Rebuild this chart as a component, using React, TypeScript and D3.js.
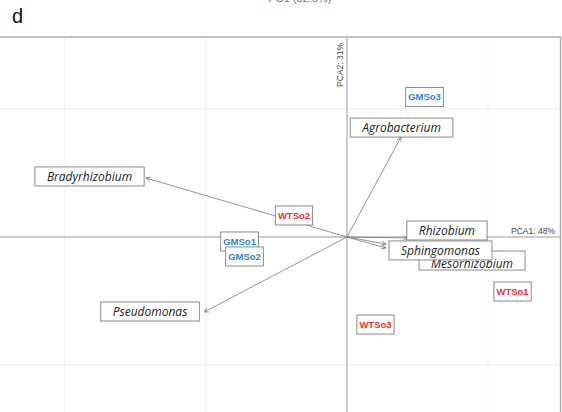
import React, { useEffect, useRef } from "react";
import * as d3 from "d3";

const loadingNames = ["Mesorhizobium", "Bradyrhizobium", "Pseudomonas", "Agrobacterium", "Sphingomonas", "Rhizobium"];
const loadingX = [0.277, -1.426, -1.014, 0.383, 0.277, 0.433];
const loadingY = [-0.086, 0.461, -0.586, 0.781, -0.055, -0.008];
const loadingLabelX = [0.887, -1.826, -1.397, 0.387, 0.663, 0.709];
const loadingLabelY = [-0.184, 0.473, -0.582, 0.855, -0.105, 0.051];

const sampleNames = ["GMSo3", "WTSo2", "GMSo1", "GMSo2", "WTSo1", "WTSo3"];
const sampleGroup = ["GM", "WT", "GM", "GM", "WT", "WT"];
const sampleX = [0.55, -0.376, -0.762, -0.727, 1.174, 0.202];
const sampleY = [1.094, 0.168, -0.035, -0.152, -0.426, -0.684];

const gridX = [-2, -1, 1];
const gridY = [-1, 1];

const W = 562;
const H = 412;

export default function App() {
  const ref = useRef<SVGSVGElement | null>(null);

  useEffect(() => {
    const svg = d3.select(ref.current);
    svg.selectAll("*").remove();

    const x = d3.scaleLinear().domain([0, 1]).range([347, 488]);
    const y = d3.scaleLinear().domain([0, 1]).range([237, 109]);

    // cut-off top title
    svg.append("text").attr("x", 300).attr("y", 2).attr("text-anchor", "middle")
      .attr("font-family", "Liberation Sans, Arial, sans-serif").attr("font-size", 11)
      .attr("fill", "#777").text("PC1 (32.5%)");

    svg.append("text").attr("x", 12).attr("y", 23)
      .attr("font-family", "Liberation Sans, Arial, sans-serif").attr("font-size", 20)
      .attr("fill", "#111").text("d");

    // frame
    svg.append("rect").attr("x", -5).attr("y", 37).attr("width", 565.5).attr("height", 400)
      .attr("fill", "white").attr("stroke", "#aaa").attr("stroke-width", 1.4);

    // grid
    svg.append("g").selectAll("line").data(gridX).join("line")
      .attr("x1", d => x(d)).attr("x2", d => x(d)).attr("y1", 38).attr("y2", H)
      .attr("stroke", "#ebebeb").attr("stroke-width", 1);
    svg.append("g").selectAll("line").data(gridY).join("line")
      .attr("y1", d => y(d)).attr("y2", d => y(d)).attr("x1", 0).attr("x2", 560)
      .attr("stroke", "#ebebeb").attr("stroke-width", 1);

    // axes
    svg.append("line").attr("x1", 0).attr("x2", 560).attr("y1", y(0)).attr("y2", y(0))
      .attr("stroke", "#999").attr("stroke-width", 1);
    svg.append("line").attr("x1", x(0)).attr("x2", x(0)).attr("y1", 38).attr("y2", H)
      .attr("stroke", "#999").attr("stroke-width", 1);

    svg.append("text").attr("x", 511).attr("y", 234)
      .attr("font-family", "Liberation Sans, Arial, sans-serif").attr("font-size", 8.5)
      .attr("fill", "#444").text("PCA1: 48%");
    svg.append("text").attr("transform", `translate(343,43) rotate(-90)`).attr("text-anchor", "end")
      .attr("font-family", "Liberation Sans, Arial, sans-serif").attr("font-size", 8.5)
      .attr("fill", "#444").text("PCA2: 31%");

    // arrows
    const ag = svg.append("g");
    loadingNames.forEach((_, i) => {
      const x0 = x(0), y0 = y(0), x1 = x(loadingX[i]), y1 = y(loadingY[i]);
      ag.append("line").attr("x1", x0).attr("y1", y0).attr("x2", x1).attr("y2", y1)
        .attr("stroke", "#777").attr("stroke-width", 0.8);
      const ang = Math.atan2(y1 - y0, x1 - x0);
      const L = 5, a = 0.45;
      [ang + Math.PI - a, ang + Math.PI + a].forEach(t => {
        ag.append("line").attr("x1", x1).attr("y1", y1)
          .attr("x2", x1 + L * Math.cos(t)).attr("y2", y1 + L * Math.sin(t))
          .attr("stroke", "#777").attr("stroke-width", 0.8);
      });
    });

    const drawLabel = (g: any, cx: number, cy: number, txt: string, opts: any) => {
      const rect = g.append("rect");
      const t = g.append("text").attr("x", cx).attr("y", cy + (opts.dy || 0)).attr("text-anchor", "middle")
        .attr("dominant-baseline", "central")
        .attr("font-family", opts.family).attr("font-size", opts.size)
        .attr("font-style", opts.style).attr("font-weight", opts.weight)
        .attr("fill", opts.fill).text(txt);
      const w = (t.node() as SVGTextElement).getComputedTextLength();
      const bw = w + opts.pad * 2;
      rect.attr("x", cx - bw / 2).attr("y", cy - opts.h / 2).attr("width", bw).attr("height", opts.h)
        .attr("fill", "white").attr("stroke", "#8a8a8a").attr("stroke-width", 1);
    };

    loadingNames.forEach((n, i) => {
      drawLabel(svg.append("g"), x(loadingLabelX[i]), y(loadingLabelY[i]), n, {
        family: "Open Sans, sans-serif", size: 12, style: "italic", weight: "normal",
        fill: "#222", pad: 12, h: 19, dy: n === "Mesorhizobium" ? 3 : 0,
      });
    });

    sampleNames.forEach((n, i) => {
      drawLabel(svg.append("g"), x(sampleX[i]), y(sampleY[i]), n, {
        family: "Liberation Sans, Arial, sans-serif", size: 9.5, style: "normal", weight: "bold",
        fill: sampleGroup[i] === "GM" ? "#2a88d8" : "#ff2a2a", pad: 2.5, h: 19,
      });
    });
  }, []);

  return (
    <svg ref={ref} width={W} height={H}
      style={{ position: "absolute", left: 0, top: 0, background: "white" }} />
  );
}
